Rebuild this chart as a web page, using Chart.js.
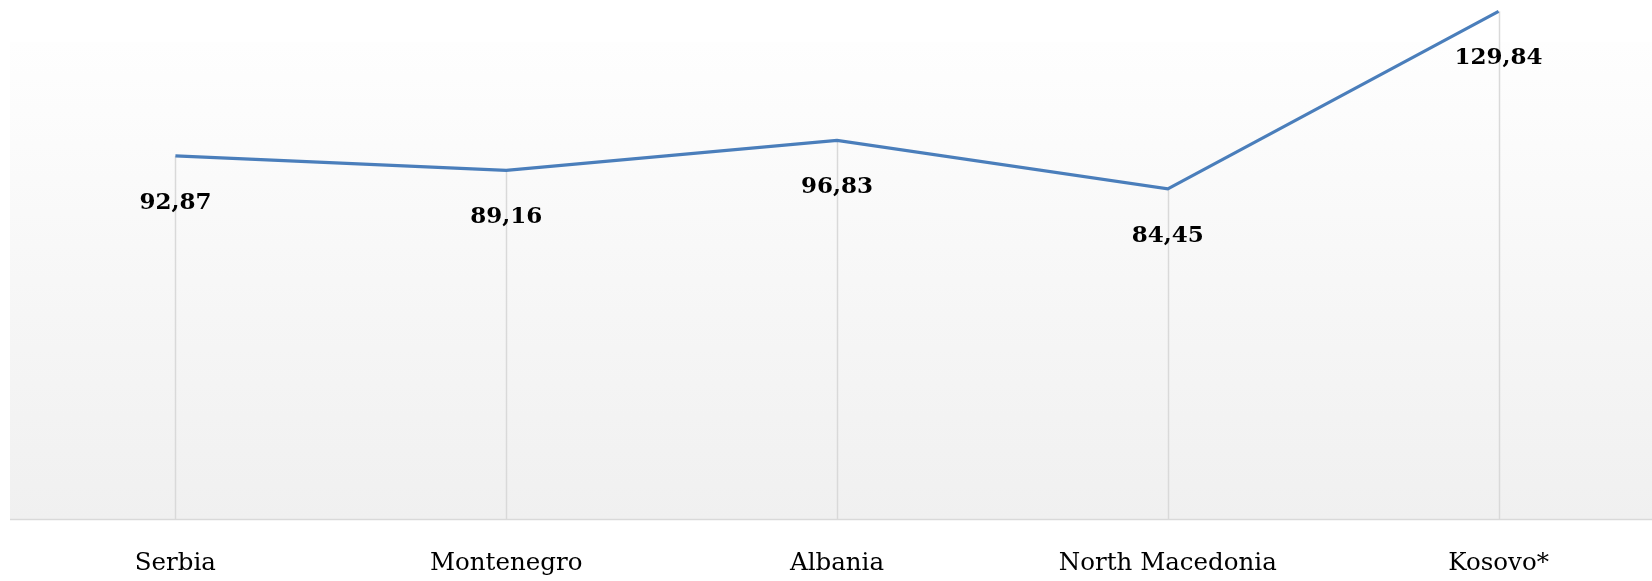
<!DOCTYPE html>
<html>
<head>
<meta charset="utf-8">
<script src="https://cdn.jsdelivr.net/npm/chart.js@4"></script>
<style>
  html, body { margin: 0; padding: 0; background: #ffffff; overflow: hidden; }
  #wrap { width: 1664px; height: 581px; }
</style>
</head>
<body>
<div id="wrap"><canvas id="chart"></canvas></div>
<script>
// data
const countries = ['Serbia', 'Montenegro', 'Albania', 'North Macedonia', 'Kosovo*'];
const values = [92.87, 89.16, 96.83, 84.45, 129.84];
const valueLabels = ['92,87', '89,16', '96,83', '84,45', '129,84'];

const serif = '"DejaVu Serif", "Liberation Serif", serif';

// gradient background, drop lines and value labels
const decor = {
  id: 'decor',
  beforeDraw(chart) {
    const { ctx, chartArea: a } = chart;
    const g = ctx.createLinearGradient(0, a.top, 0, a.bottom);
    g.addColorStop(0, '#fefefe');
    g.addColorStop(1, '#f0f0f0');
    ctx.save();
    ctx.fillStyle = g;
    ctx.fillRect(a.left, a.top, a.right - a.left, a.bottom - a.top);
    ctx.restore();
  },
  beforeDatasetsDraw(chart) {
    const { ctx, chartArea: a } = chart;
    const pts = chart.getDatasetMeta(0).data;
    ctx.save();
    ctx.strokeStyle = '#d9d9d9';
    ctx.lineWidth = 1.5;
    pts.forEach(p => {
      ctx.beginPath();
      ctx.moveTo(Math.round(p.x) + 0.5, p.y);
      ctx.lineTo(Math.round(p.x) + 0.5, a.bottom);
      ctx.stroke();
    });
    // axis line
    ctx.beginPath();
    ctx.moveTo(a.left, a.bottom + 0.5);
    ctx.lineTo(a.right, a.bottom + 0.5);
    ctx.stroke();
    ctx.restore();
  },
  afterDatasetsDraw(chart) {
    const { ctx } = chart;
    const pts = chart.getDatasetMeta(0).data;
    ctx.save();
    ctx.fillStyle = '#000000';
    ctx.font = 'bold 23px ' + serif;
    ctx.textAlign = 'center';
    ctx.textBaseline = 'middle';
    pts.forEach((p, i) => {
      ctx.fillText(valueLabels[i], p.x, p.y + 47);
    });
    ctx.restore();
  }
};

const ctx = document.getElementById('chart').getContext('2d');
new Chart(ctx, {
  type: 'line',
  data: {
    labels: countries,
    datasets: [
      {
        data: values,
        borderColor: '#4a7ebb',
        borderWidth: 3.2,
        pointRadius: 0,
        fill: false,
        tension: 0,
        clip: false,
      }
    ],
  },
  options: {
    responsive: true,
    maintainAspectRatio: false,
    animation: false,
    layout: { padding: { left: 10, right: 0, top: 42, bottom: 0 } },
    plugins: {
      legend: { display: false },
      tooltip: { enabled: false },
    },
    scales: {
      x: {
        offset: true,
        grid: { display: false, drawTicks: false },
        border: { display: false },
        afterFit(scale) { scale.height = 62; },
        ticks: {
          color: '#000000',
          padding: 30,
          maxRotation: 0,
          font: { family: serif, size: 24.5 },
        },
      },
      y: {
        display: false,
        min: 0,
        max: 122,
      },
    },
  },
  plugins: [decor],
});
</script>
</body>
</html>
